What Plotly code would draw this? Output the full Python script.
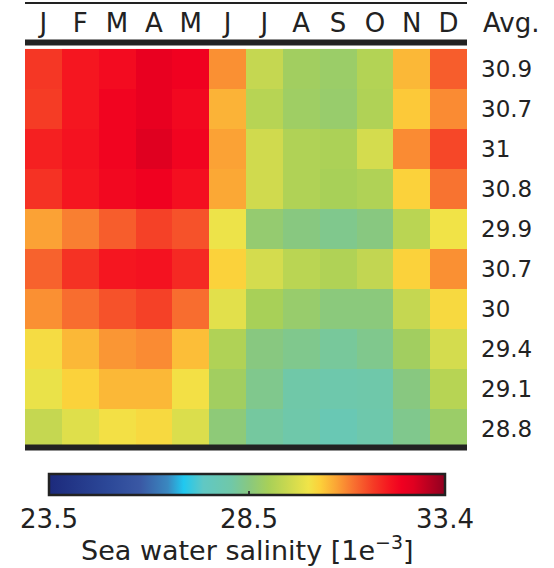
import plotly.graph_objects as go

###############################################################################
# Data
###############################################################################
months = ["J", "F", "M", "A", "M", "J", "J", "A", "S", "O", "N", "D"]
avg_labels = ["30.9", "30.7", "31", "30.8", "29.9", "30.7", "30", "29.4", "29.1", "28.8"]

row1 = [31.65, 32.0, 32.15, 32.45, 32.3, 30.85, 29.4, 28.9, 28.8, 29.15, 30.5, 31.3]
row2 = [31.6, 32.0, 32.25, 32.45, 32.2, 30.55, 29.2, 28.85, 28.75, 29.1, 30.35, 30.9]
row3 = [31.9, 32.05, 32.25, 32.6, 32.25, 30.7, 29.55, 29.1, 29.05, 29.6, 30.9, 31.5]
row4 = [31.7, 32.0, 32.2, 32.3, 32.1, 30.65, 29.55, 29.1, 29.0, 29.1, 30.25, 31.1]
row5 = [30.7, 31.0, 31.3, 31.55, 31.4, 29.95, 28.7, 28.5, 28.35, 28.5, 29.25, 30.0]
row6 = [31.25, 31.7, 32.0, 32.05, 31.8, 30.25, 29.6, 29.25, 29.1, 29.35, 30.25, 30.85]
row7 = [30.85, 31.15, 31.4, 31.55, 31.15, 29.8, 29.0, 28.75, 28.55, 28.55, 29.4, 30.15]
row8 = [30.1, 30.5, 30.8, 30.9, 30.45, 29.1, 28.5, 28.35, 28.2, 28.35, 28.9, 29.6]
row9 = [29.9, 30.25, 30.5, 30.5, 30.05, 28.9, 28.35, 28.05, 27.95, 28.0, 28.5, 29.2]
row10 = [29.4, 29.75, 30.05, 30.15, 29.7, 28.6, 28.15, 28.0, 27.75, 27.95, 28.35, 28.8]

zmin, zmax = 23.5, 33.4
cbar_ticks = [23.5, 28.5, 33.4]
cbar_title = "Sea water salinity [1e<sup>\u22123</sup>]"

###############################################################################
# Figure
###############################################################################
z = [row1, row2, row3, row4, row5, row6, row7, row8, row9, row10]

colorscale = [
    [0.0, "#1c2a7c"], [0.15, "#2c4898"], [0.23, "#3a58a4"], [0.30, "#3a88c0"],
    [0.34, "#20c8f0"], [0.39, "#60c8c4"], [0.46, "#70c8a8"], [0.505, "#88c880"],
    [0.555, "#a8d058"], [0.60, "#c8d850"], [0.655, "#f0e448"], [0.685, "#fcd03a"],
    [0.725, "#fba535"], [0.77, "#f87030"], [0.82, "#f53a25"], [0.86, "#f51520"],
    [0.89, "#f00020"], [0.92, "#e00020"], [1.0, "#900020"],
]

W, H = 554, 568
x0, x1 = 25, 467      # heatmap left/right (px)
y0, y1 = 45, 449      # heatmap top/bottom (px)
font = "DejaVu Sans"
txt = "#222222"

fig = go.Figure(go.Heatmap(
    z=z,
    x=list(range(len(months))),
    y=list(range(len(avg_labels))),
    zmin=zmin, zmax=zmax,
    colorscale=colorscale,
    xgap=0, ygap=0,
    colorbar=dict(
        orientation="h",
        lenmode="pixels", len=396,
        thicknessmode="pixels", thickness=21,
        x=(49 + 445) / 2 / W, xanchor="center", xpad=0,
        y=1 - 474 / H, yanchor="top", ypad=0,
        outlinewidth=2.5, outlinecolor="#222222",
        tickvals=cbar_ticks,
        ticktext=[str(v) for v in cbar_ticks],
        ticks="inside", ticklen=5, tickwidth=2, tickcolor="#333333",
        tickfont=dict(family=font, size=26, color=txt),
    ),
))

# invisible helper trace so a free x axis can draw the thin top line
fig.add_trace(go.Scatter(x=[0, len(months) - 1], y=[0, 0], xaxis="x2",
                         mode="markers", marker=dict(opacity=0),
                         hoverinfo="skip", showlegend=False))

fig.update_layout(
    width=W, height=H,
    margin=dict(l=0, r=0, t=0, b=0),
    paper_bgcolor="white", plot_bgcolor="white",
    xaxis=dict(
        domain=[x0 / W, x1 / W],
        side="top",
        range=[-0.5, len(months) - 0.5],
        tickvals=list(range(len(months))), ticktext=months,
        tickfont=dict(family=font, size=26, color=txt),
        ticks="", showgrid=False, zeroline=False,
        ticklabelstandoff=7,
    ),
    xaxis2=dict(
        domain=[x0 / W, x1 / W],
        overlaying="x", anchor="free", position=1 - 3 / H,
        side="top",
        range=[-0.5, len(months) - 0.5],
        showline=True, linecolor="#222222", linewidth=2,
        showticklabels=False, ticks="", showgrid=False, zeroline=False,
    ),
    yaxis=dict(
        domain=[1 - y1 / H, 1 - y0 / H],
        side="right", autorange="reversed",
        range=[len(avg_labels) - 0.5, -0.5],
        tickvals=list(range(len(avg_labels))), ticktext=avg_labels,
        tickfont=dict(family=font, size=23, color=txt),
        ticks="", showgrid=False, zeroline=False,
        ticklabelstandoff=13,
    ),
)

# black bars at top / bottom of the grid
fig.add_shape(type="line", xref="paper", yref="paper",
              x0=x0 / W, x1=x1 / W, y0=1 - 42.5 / H, y1=1 - 42.5 / H,
              line=dict(color="#222222", width=6))
fig.add_shape(type="line", xref="paper", yref="paper",
              x0=x0 / W, x1=x1 / W, y0=1 - 447.5 / H, y1=1 - 447.5 / H,
              line=dict(color="#222222", width=6))

fig.add_annotation(text="Avg.", xref="paper", yref="paper",
                   x=481 / W, y=1 - 23 / H, xanchor="left", yanchor="middle",
                   showarrow=False, font=dict(family=font, size=26, color=txt))

# colorbar title under the tick labels
fig.add_annotation(text=cbar_title, xref="paper", yref="paper",
                   x=247 / W, y=1 - 548 / H, xanchor="center", yanchor="middle",
                   showarrow=False, font=dict(family=font, size=27, color=txt))

# drop the default 8px page margin so the figure fills the window exactly
fig.write_html("out.html", config={"displayModeBar": False},
               post_script="document.body.style.margin='0';")
